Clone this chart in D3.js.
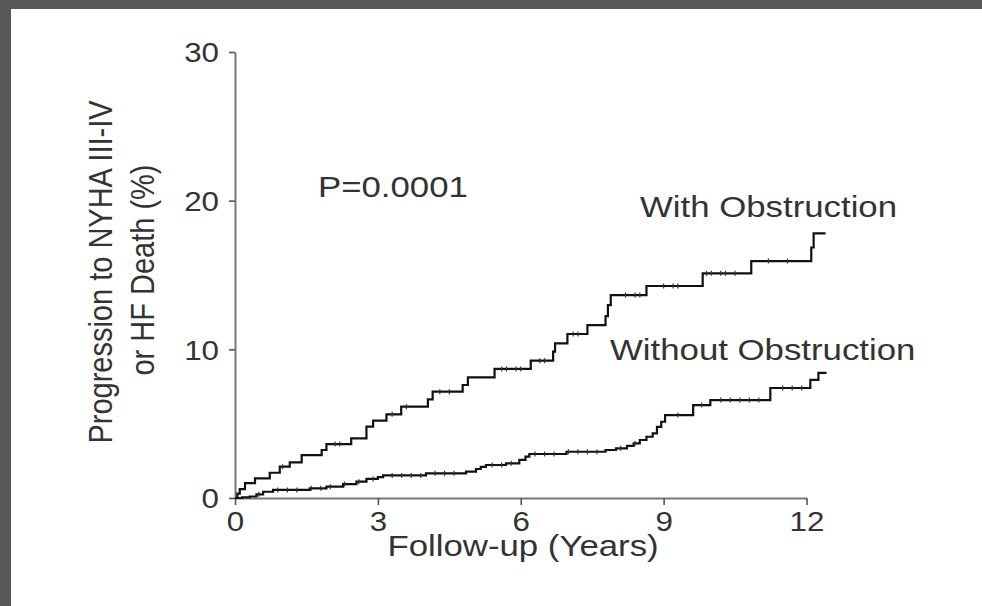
<!DOCTYPE html>
<html>
<head>
<meta charset="utf-8">
<script src="https://cdn.jsdelivr.net/npm/d3@7"></script>
<style>
  html, body { margin: 0; padding: 0; background: #ffffff; overflow: hidden; }
  svg { display: block; }
  text { font-family: "Liberation Sans", Arial, sans-serif; fill: #333; }
</style>
</head>
<body>
<svg id="chart" width="982" height="606"></svg>
<script>
// Cumulative progression (%) after each event time (years), step curves
const withTimes  = [0, 0.05, 0.10, 0.21, 0.42, 0.73, 0.94, 1.15, 1.40, 1.82, 1.92, 2.44, 2.76, 2.90, 3.18, 3.49, 4.05, 4.15, 4.78, 4.89, 5.45, 6.21, 6.68, 6.72, 6.98, 7.40, 7.78, 7.83, 7.89, 8.64, 9.82, 10.84, 12.10, 12.15, 12.40];
const withPct    = [0, 0.30, 0.60, 1.00, 1.32, 1.70, 2.11, 2.40, 2.89, 3.23, 3.63, 4.01, 4.80, 5.20, 5.63, 6.14, 6.64, 7.15, 7.60, 8.12, 8.68, 9.24, 9.84, 10.40, 11.03, 11.63, 12.24, 12.98, 13.65, 14.26, 15.11, 15.94, 16.85, 17.80, 17.80];
const withoutTimes = [0, 0.15, 0.31, 0.45, 0.59, 0.80, 1.57, 1.92, 2.27, 2.55, 2.76, 3.00, 3.11, 4.01, 4.85, 5.06, 5.16, 5.27, 5.69, 5.97, 6.10, 6.18, 6.96, 7.78, 8.00, 8.23, 8.37, 8.50, 8.64, 8.77, 8.86, 8.95, 9.03, 9.62, 9.98, 11.24, 12.08, 12.25, 12.42];
const withoutPct   = [0, 0.05, 0.10, 0.25, 0.42, 0.54, 0.65, 0.76, 0.94, 1.10, 1.28, 1.40, 1.52, 1.66, 1.77, 1.95, 2.10, 2.22, 2.33, 2.56, 2.78, 2.96, 3.11, 3.23, 3.34, 3.50, 3.68, 3.90, 4.12, 4.35, 4.79, 5.13, 5.58, 6.25, 6.59, 7.40, 7.94, 8.41, 8.41];

// Censored observations (years)
const withCensor = [1.0, 2.1, 2.2, 3.3, 3.6, 4.3, 4.5, 5.6, 5.7, 5.9, 6.0, 6.4, 6.5, 7.1, 7.2, 8.2, 8.4, 8.5, 9.0, 9.2, 9.3, 9.9, 10.0, 10.2, 10.3, 10.5, 11.2, 11.6];
const withoutCensor = [0.5, 0.9, 1.1, 1.3, 1.6, 1.8, 2.0, 2.3, 2.6, 2.9, 3.3, 3.5, 3.7, 3.9, 4.2, 4.4, 4.6, 5.4, 5.6, 5.8, 6.3, 6.5, 6.7, 7.0, 7.2, 7.4, 7.6, 8.1, 8.4, 9.3, 9.8, 10.2, 10.4, 10.6, 10.8, 11.0, 11.5, 11.7, 11.9];

const xTicks = [0, 3, 6, 9, 12];
const yTicks = [0, 10, 20, 30];

const seriesLabels = ["With Obstruction", "Without Obstruction"];
const pLabel = "P=0.0001";
const xTitle = "Follow-up (Years)";
const yTitle = ["Progression to NYHA III-IV", "or HF Death (%)"];

const SX = 1.16; // horizontal stretch of the lettering
const svg = d3.select("#chart");

// frame: dark band along the top and left edges
svg.append("rect").attr("x", 0).attr("y", 0).attr("width", 982).attr("height", 606).attr("fill", "#585858");
svg.append("rect").attr("x", 11).attr("y", 9).attr("width", 971).attr("height", 597).attr("fill", "#ffffff");

const x = d3.scaleLinear().domain([0, 12]).range([235, 806.5]);
const y = d3.scaleLinear().domain([0, 30]).range([498, 52]);

// axes
const yAxis = svg.append("g").attr("transform", `translate(${x(0)},0)`)
  .call(d3.axisLeft(y).tickValues(yTicks).tickSize(6).tickSizeOuter(0).tickFormat(d3.format("d")));
const xAxis = svg.append("g").attr("transform", `translate(0,${y(0)})`)
  .call(d3.axisBottom(x).tickValues(xTicks).tickSize(7).tickSizeOuter(0).tickFormat(d3.format("d")));

[yAxis, xAxis].forEach(g => {
  g.select(".domain").attr("stroke", "#777").attr("stroke-width", 2);
  g.selectAll(".tick line").attr("stroke", "#555").attr("stroke-width", 1.6);
  g.selectAll(".tick text").attr("fill", "#333").style("font-size", "27px")
    .style("font-family", '"Liberation Sans", Arial, sans-serif')
    .attr("transform", `scale(${SX},1)`);
});
yAxis.selectAll(".tick text").attr("x", -16 / SX).attr("dy", "0.36em");
xAxis.selectAll(".tick text").attr("x", 0).attr("y", 14).attr("dy", "0.71em");

// step curves with censor marks
const line = d3.line().x(d => x(d[0])).y(d => y(d[1])).curve(d3.curveStepAfter);
const series = [
  { times: withTimes, pct: withPct, censor: withCensor },
  { times: withoutTimes, pct: withoutPct, censor: withoutCensor }
];
series.forEach(s => {
  const pts = s.times.map((t, i) => [t, s.pct[i]]);
  svg.append("path").datum(pts).attr("d", line)
    .attr("fill", "none").attr("stroke", "#111").attr("stroke-width", 2.2);
  const bis = d3.bisector(d => d[0]).right;
  const level = d => y(pts[Math.max(0, bis(pts, d) - 1)][1]);
  svg.append("g").selectAll("line").data(s.censor).join("line")
    .attr("x1", d => x(d)).attr("x2", d => x(d))
    .attr("y1", d => level(d) - 2.5)
    .attr("y2", d => level(d) + 2.5)
    .attr("stroke", "#333").attr("stroke-width", 1.2);
});

// annotations
function label(text, px, py, size, anchor) {
  svg.append("text").attr("transform", `translate(${px},${py}) scale(${SX},1)`)
    .attr("text-anchor", anchor || "start").style("font-size", size + "px").text(text);
}
label(pLabel, 318, 197, 30);
label(seriesLabels[0], 640, 217, 30);
label(seriesLabels[1], 610, 360, 30);
label(xTitle, 523, 556, 30, "middle");

// y title, two lines
[[yTitle[0], 100, 272], [yTitle[1], 142, 270]].forEach(([t, px, py]) => {
  svg.append("text").attr("transform", `translate(${px},${py}) scale(${SX},1) rotate(-90)`)
    .attr("text-anchor", "middle").attr("dy", "0.35em").style("font-size", "29px").text(t);
});
</script>
</body>
</html>
